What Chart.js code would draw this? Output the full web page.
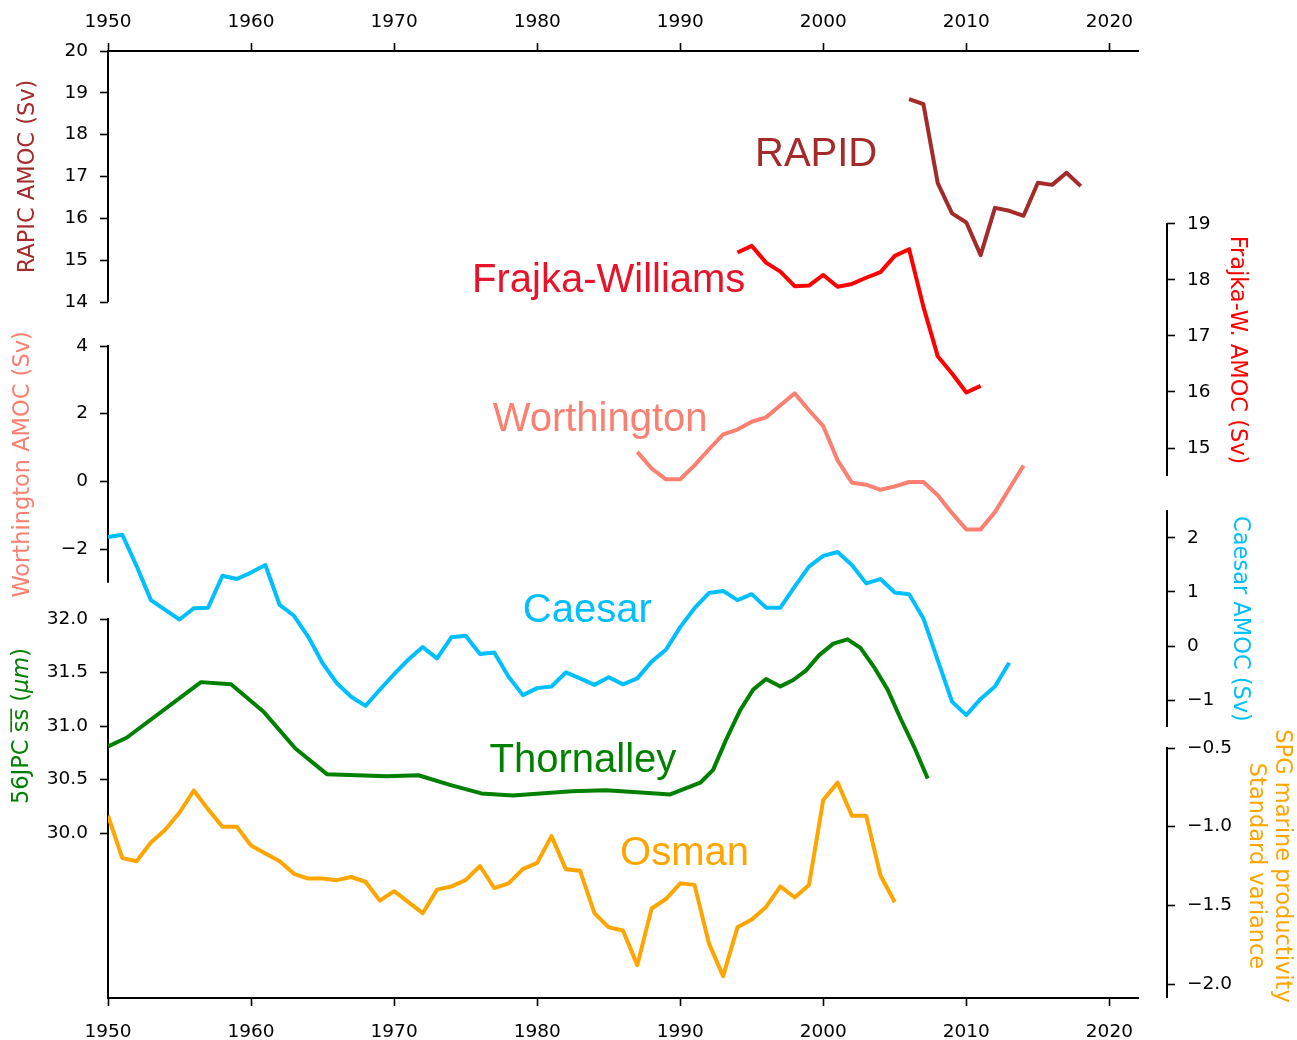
<!DOCTYPE html>
<html>
<head>
<meta charset="utf-8">
<script src="https://cdn.jsdelivr.net/npm/chart.js@4.4.1/dist/chart.umd.min.js"></script>
<style>
  html, body { margin: 0; padding: 0; background: #fff; }
  canvas { display: block; }
</style>
</head>
<body>
<canvas id="amoc" width="1297" height="1040"></canvas>
<script>
// ---- series ----
const rapidStart = 2006;
const rapidValues = [18.85, 18.73, 16.84, 16.12, 15.90, 15.12, 16.25, 16.18, 16.06, 16.85, 16.80, 17.09, 16.77];

const frajkaStart = 1994;
const frajkaValues = [18.49, 18.61, 18.31, 18.15, 17.89, 17.90, 18.09, 17.88, 17.93, 18.04,
                      18.14, 18.43, 18.55, 17.52, 16.64, 16.33, 15.99, 16.11];

const worthingtonStart = 1987;
const worthingtonValues = [0.87, 0.38, 0.06, 0.06, 0.47, 0.94, 1.39, 1.53, 1.76, 1.89,
                           2.25, 2.60, 2.10, 1.63, 0.62, -0.04, -0.10, -0.25, -0.15, -0.02,
                           -0.02, -0.41, -0.94, -1.42, -1.42, -0.91, -0.22, 0.47];

const caesarStart = 1950;
const caesarValues = [2.02, 2.06, 1.48, 0.85, 0.67, 0.49, 0.70, 0.71, 1.30, 1.24,
                      1.36, 1.50, 0.76, 0.56, 0.17, -0.32, -0.69, -0.94, -1.11, -0.81,
                      -0.52, -0.25, -0.02, -0.23, 0.16, 0.19, -0.15, -0.12, -0.57, -0.91,
                      -0.78, -0.75, -0.49, -0.60, -0.72, -0.58, -0.71, -0.60, -0.29, -0.07,
                      0.35, 0.70, 0.98, 1.02, 0.85, 0.96, 0.71, 0.71, 1.10, 1.47,
                      1.67, 1.74, 1.50, 1.16, 1.24, 0.99, 0.96, 0.51, -0.26, -1.03,
                      -1.28, -0.98, -0.75, -0.31];

const thornalleyYears = [1950.0, 1951.3, 1956.5, 1958.6, 1960.9, 1963.1, 1965.3, 1969.5, 1971.7, 1973.9,
                         1976.1, 1978.3, 1982.4, 1984.8, 1987.0, 1989.3, 1991.4, 1992.3, 1993.2, 1994.2,
                         1995.1, 1996.0, 1997.0, 1997.9, 1998.8, 1999.7, 2000.7, 2001.7, 2002.6, 2003.6,
                         2004.5, 2005.4, 2006.4, 2007.3];
const thornalleyValues = [30.81, 30.89, 31.41, 31.39, 31.13, 30.79, 30.55, 30.53, 30.54, 30.45,
                          30.37, 30.35, 30.39, 30.40, 30.38, 30.36, 30.47, 30.59, 30.87, 31.15,
                          31.34, 31.44, 31.37, 31.43, 31.52, 31.66, 31.77, 31.81, 31.73, 31.54,
                          31.34, 31.07, 30.79, 30.51];

const osmanStart = 1950;
const osmanValues = [-0.93, -1.20, -1.22, -1.10, -1.02, -0.91, -0.77, -0.89, -1.00, -1.00,
                     -1.12, -1.17, -1.22, -1.30, -1.33, -1.33, -1.34, -1.32, -1.35, -1.47,
                     -1.41, -1.48, -1.55, -1.40, -1.38, -1.34, -1.25, -1.39, -1.36, -1.27,
                     -1.23, -1.06, -1.27, -1.28, -1.55, -1.64, -1.66, -1.88, -1.52, -1.46,
                     -1.36, -1.37, -1.74, -1.95, -1.64, -1.59, -1.51, -1.38, -1.45, -1.37,
                     -0.83, -0.72, -0.93, -0.93, -1.31, -1.48];

// ---- tick labels ----
const yearTicks = [1950, 1960, 1970, 1980, 1990, 2000, 2010, 2020];
const rapidTicks = [14, 15, 16, 17, 18, 19, 20];
const worthingtonTicks = [-2, 0, 2, 4];
const thornalleyTicks = [30.0, 30.5, 31.0, 31.5, 32.0];
const frajkaTicks = [15, 16, 17, 18, 19];
const caesarTicks = [-1, 0, 1, 2];
const osmanTicks = [-2.0, -1.5, -1.0, -0.5];

// ---- colours ----
const COLORS = {
  rapid: '#a52a2a',
  frajka: '#ff0000',
  worthington: '#fa8072',
  caesar: '#00bfff',
  thornalley: '#008000',
  osman: '#ffa500'
};

// ---- layout ----
const PLOT_TOP = 51, PLOT_BOTTOM = 998;   // vertical extent of the plotting area
const RIGHT_SPINE_OFFSET = 29;            // right-hand spines sit a little outside the plot
const LABEL_ROOM = 100;                   // horizontal room given to each y axis' tick labels

// Full-height axis range so that value v1 lands at pixel p1 and v2 at p2.
function axisRange(v1, p1, v2, p2) {
  const perPx = (v1 - v2) / (p2 - p1);
  return { max: v1 + (p1 - PLOT_TOP) * perPx, min: v2 - (PLOT_BOTTOM - p2) * perPx };
}

const minus = s => s.replace('-', '\u2212');
const fmtInt = v => minus(String(v));
const fmt1 = v => minus(Number(v).toFixed(1));

const tickFont = { family: 'DejaVu Sans', size: 18.5 };

function yScale(position, range, ticks, fmt) {
  return {
    type: 'linear',
    position,
    min: range.min,
    max: range.max,
    afterFit: s => { s.width = 0; },
    afterBuildTicks: s => { s.ticks = ticks.map(v => ({ value: v })); },
    border: { display: false },
    grid: { display: true, drawOnChartArea: false, drawTicks: true, tickLength: 8, tickWidth: 1.6, tickColor: '#000' },
    ticks: { autoSkip: false, padding: 12, color: '#000', font: tickFont, callback: v => fmt(v) }
  };
}

function xScale(position, height, pad) {
  return {
    type: 'linear',
    position,
    min: 1950,
    max: 2022,
    afterFit: s => { s.height = height; },
    afterBuildTicks: s => { s.ticks = yearTicks.map(v => ({ value: v })); },
    border: { display: true, color: '#000', width: 2 },
    grid: { display: true, drawOnChartArea: false, drawTicks: true, tickLength: 8, tickWidth: 1.6, tickColor: '#000' },
    ticks: { autoSkip: false, maxRotation: 0, padding: pad, color: '#000', font: tickFont, callback: v => String(v) }
  };
}

const annual = (start, values) => values.map((v, i) => ({ x: start + i, y: v }));
const paired = (xs, ys) => xs.map((x, i) => ({ x, y: ys[i] }));

function line(label, data, axis, color) {
  return { label, data, yAxisID: axis, xAxisID: 'x', borderColor: color, borderWidth: 4,
           pointRadius: 0, tension: 0, fill: false, borderJoinStyle: 'round', borderCapStyle: 'butt' };
}

// Spine extents and axis titles for each y axis
const axisDecor = [
  { id: 'yRapid', from: 20, to: 14, color: COLORS.rapid, titleAt: 17, dx: -80,
    lines: ['RAPIC AMOC (Sv)'] },
  { id: 'yWorth', from: 4, to: -3, color: COLORS.worthington, titleAt: 0.5, dx: -85,
    lines: ['Worthington AMOC (Sv)'] },
  { id: 'yThorn', from: 32, to: null, color: COLORS.thornalley, titleAt: 31.0, dx: -86,
    parts: [['56JPC ', false], ['s\u0305s\u0305', false], [' (', false], ['\u03bcm', true], [')', false]] },
  { id: 'yFrajka', from: 19, to: 14.5, color: COLORS.frajka, titleAt: 16.75, dx: 70,
    lines: ['Frajka-W. AMOC (Sv)'] },
  { id: 'yCaesar', from: 2.5, to: -1.5, color: COLORS.caesar, titleAt: 0.5, dx: 73,
    lines: ['Caesar AMOC (Sv)'] },
  { id: 'yOsman', from: -0.5, to: null, color: COLORS.osman, titleAt: -1.25, dx: 102,
    lines: ['SPG marine productivity', 'Standard variance'] }
];

// Series names written inside the plot, anchored in data units
const seriesLabels = [
  { text: 'RAPID', axis: 'yRapid', year: 1999.5, value: 17.25, color: COLORS.rapid },
  { text: 'Frajka-Williams', axis: 'yFrajka', year: 1985.0, value: 17.79, color: '#e8132b' },
  { text: 'Worthington', axis: 'yWorth', year: 1984.4, value: 1.48, color: COLORS.worthington },
  { text: 'Caesar', axis: 'yCaesar', year: 1983.5, value: 0.44, color: COLORS.caesar },
  { text: 'Thornalley', axis: 'yThorn', year: 1983.2, value: 30.57, color: COLORS.thornalley },
  { text: 'Osman', axis: 'yOsman', year: 1990.3, value: -1.244, color: COLORS.osman }
];

const TITLE_FONT = '22.5px "DejaVu Sans"';
const TITLE_FONT_ITALIC = 'italic 22.5px "DejaVu Sans"';

// The y axes take no layout width (they overlap in pairs); once placed, give
// them room for their labels and push the right-hand ones off the plot edge.
const axisPlacementPlugin = {
  id: 'axisPlacement',
  afterLayout(chart) {
    for (const s of Object.values(chart.scales)) {
      if (s.axis !== 'y') continue;
      if (s.options.position === 'right') {
        s.left += RIGHT_SPINE_OFFSET;
        s.right = s.left + LABEL_ROOM;
      } else {
        s.left = s.right - LABEL_ROOM;
      }
    }
  }
};

const decorPlugin = {
  id: 'decor',
  beforeDatasetsDraw(chart) {
    const ctx = chart.ctx;
    ctx.save();
    ctx.strokeStyle = '#000';
    ctx.lineWidth = 2;
    for (const a of axisDecor) {
      const s = chart.scales[a.id];
      const x = s.options.position === 'left' ? s.right : s.left;
      const y1 = s.getPixelForValue(a.from) - 1;
      const y2 = a.to === null ? chart.chartArea.bottom : s.getPixelForValue(a.to);
      ctx.beginPath();
      ctx.moveTo(x, y1);
      ctx.lineTo(x, y2);
      ctx.stroke();
    }
    ctx.restore();
  },
  afterDraw(chart) {
    const ctx = chart.ctx;
    // axis titles
    for (const a of axisDecor) {
      const s = chart.scales[a.id];
      const left = s.options.position === 'left';
      const x = (left ? s.right : s.left) + a.dx;
      const y = s.getPixelForValue(a.titleAt);
      ctx.save();
      ctx.translate(x, y);
      ctx.rotate(left ? -Math.PI / 2 : Math.PI / 2);
      ctx.fillStyle = a.color;
      ctx.textBaseline = 'middle';
      if (a.parts) {
        const widths = a.parts.map(([t, it]) => { ctx.font = it ? TITLE_FONT_ITALIC : TITLE_FONT; return ctx.measureText(t).width; });
        let cx = -widths.reduce((p, w) => p + w, 0) / 2;
        ctx.textAlign = 'left';
        a.parts.forEach(([t, it], i) => {
          ctx.font = it ? TITLE_FONT_ITALIC : TITLE_FONT;
          ctx.fillText(t, cx, 0);
          cx += widths[i];
        });
      } else {
        ctx.font = TITLE_FONT;
        ctx.textAlign = 'center';
        const n = a.lines.length, lh = 26;
        a.lines.forEach((t, i) => ctx.fillText(t, 0, (i - (n - 1) / 2) * lh));
      }
      ctx.restore();
    }
    // series names
    const xs = chart.scales.x;
    ctx.save();
    ctx.font = '40px "Liberation Sans"';
    ctx.textAlign = 'center';
    ctx.textBaseline = 'alphabetic';
    for (const l of seriesLabels) {
      ctx.fillStyle = l.color;
      ctx.fillText(l.text, xs.getPixelForValue(l.year), chart.scales[l.axis].getPixelForValue(l.value));
    }
    ctx.restore();
  }
};

new Chart(document.getElementById('amoc'), {
  type: 'line',
  data: {
    datasets: [
      line('RAPID', annual(rapidStart, rapidValues), 'yRapid', COLORS.rapid),
      line('Frajka-Williams', annual(frajkaStart, frajkaValues), 'yFrajka', COLORS.frajka),
      line('Worthington', annual(worthingtonStart, worthingtonValues), 'yWorth', COLORS.worthington),
      line('Caesar', annual(caesarStart, caesarValues), 'yCaesar', COLORS.caesar),
      line('Thornalley', paired(thornalleyYears, thornalleyValues), 'yThorn', COLORS.thornalley),
      line('Osman', annual(osmanStart, osmanValues), 'yOsman', COLORS.osman)
    ]
  },
  options: {
    responsive: false,
    animation: false,
    devicePixelRatio: 1,
    layout: { padding: { left: 108, right: 159, top: 0, bottom: 0 } },
    plugins: { legend: { display: false }, tooltip: { enabled: false } },
    scales: {
      x: xScale('bottom', 1040 - PLOT_BOTTOM, 15),
      x2: xScale('top', PLOT_TOP, 10),
      yRapid: yScale('left', axisRange(20, 51, 14, 302), rapidTicks, fmtInt),
      yWorth: yScale('left', axisRange(4, 346, -2, 549), worthingtonTicks, fmtInt),
      yThorn: yScale('left', axisRange(32, 619, 30, 833), thornalleyTicks, fmt1),
      yFrajka: yScale('right', axisRange(19, 224, 15, 448), frajkaTicks, fmtInt),
      yCaesar: yScale('right', axisRange(2, 538, -1, 700), caesarTicks, fmtInt),
      yOsman: yScale('right', axisRange(-0.5, 748, -2, 984), osmanTicks, fmt1)
    }
  },
  plugins: [axisPlacementPlugin, decorPlugin]
});
</script>
</body>
</html>
